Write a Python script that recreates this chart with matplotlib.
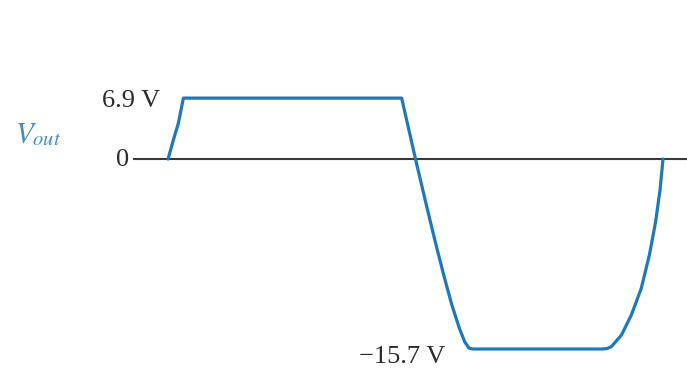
import numpy as np
import matplotlib.pyplot as plt

plt.rcParams['font.family'] = ['Liberation Serif', 'DejaVu Serif']
plt.rcParams['mathtext.fontset'] = 'stix'

# clipped output waveform, time in arbitrary units (one period = 200)
t_pts = [0, 2.14, 4.16, 6.2, 94.4, 100, 103.9, 107.8, 111.4, 114.7,
         117.7, 119.9, 121.6, 123.2, 175.8, 177.4, 179.1, 183.2, 187.2,
         191.2, 194.5, 197.0, 198.8, 200]
v_pts = [0, 2.15, 4.04, 6.9, 6.9, 0, -3.39, -6.69, -9.59, -12.07,
         -13.97, -15.12, -15.62, -15.7, -15.7, -15.66, -15.51, -14.55, -12.89,
         -10.69, -7.93, -5.2, -2.56, 0]

v_high = 6.9
v_low = -15.7
i_high = 3   # corner where the positive clip starts
i_low = 13   # corner where the negative clip starts

# positive and negative halves drawn at different vertical scales
KP, KN = 8.84, 12.1


def fwd(v):
    v = np.asarray(v, dtype=float)
    return np.where(v >= 0, v * KP, v * KN)


def inv(d):
    d = np.asarray(d, dtype=float)
    return np.where(d >= 0, d / KP, d / KN)


fig = plt.figure(figsize=(6.87, 3.68), dpi=100)
ax = fig.add_axes([0, 0, 1, 1])
ax.set_yscale('function', functions=(fwd, inv))
ax.set_xlim(-67.9, 209.7)
ax.set_ylim(-17.27, 18.0)
ax.axis('off')

ax.axhline(0, xmin=134 / 687, xmax=1, color='#3a3a3a', lw=1.5, zorder=1)
ax.plot(t_pts, v_pts, color='#1f78bd', lw=2.3, solid_joinstyle='round',
        solid_capstyle='round', zorder=2)

txt = dict(color='#2b2b2b', fontsize=19, textcoords='offset points')
ax.annotate('6.9 V', xy=(t_pts[i_high], v_high), xytext=(-17, -1.8),
            ha='right', va='center', **txt)
ax.annotate('0', xy=(0, 0), xytext=(-28.3, -0.7), ha='right', va='center', **txt)
ax.annotate('\u221215.7 V', xy=(t_pts[i_low], v_low), xytext=(-20, -6),
            ha='right', va='center', **txt)
ax.annotate(r'$V_{out}$', xy=(0, 0), xytext=(-110, 12.2), textcoords='offset points',
            ha='left', va='baseline', color='#3d8fc6', fontsize=21)

fig.savefig('out.png', dpi=100)
